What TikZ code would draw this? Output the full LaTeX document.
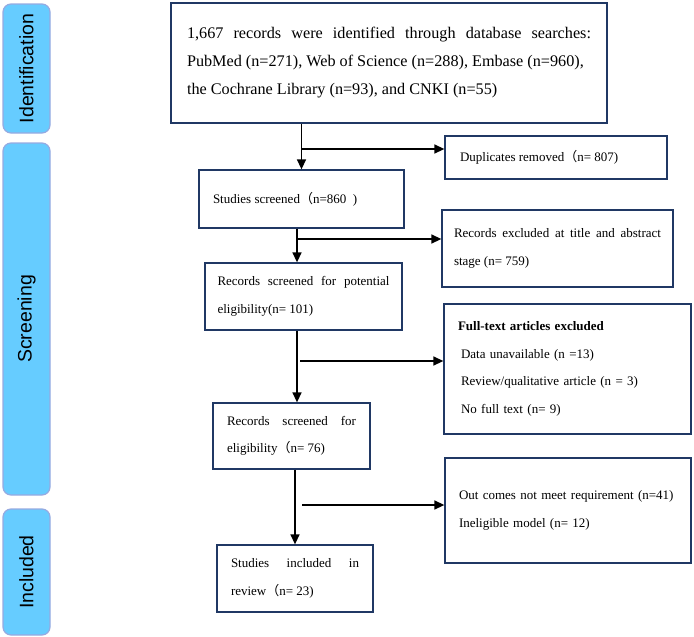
\documentclass[tikz,border=0pt]{standalone}
\usepackage{fontspec}
\setmainfont{Liberation Serif}
\setsansfont{Liberation Sans}
\newfontfamily\cjk{Noto Sans CJK SC}
\usetikzlibrary{arrows.meta, positioning, calc}
\definecolor{phasefill}{RGB}{102, 204, 255}
\definecolor{phaseborder}{RGB}{150, 170, 225}
\definecolor{boxnavy}{RGB}{32, 56, 100}
\newcommand{\fwp}{{\cjk （}}
\hyphenpenalty=10000
\tolerance=10000
\tikzset{
  phase/.style  = {rectangle, rounded corners=8pt, draw=phaseborder, fill=phasefill, line width=1.2pt, rotate=90, minimum height=47pt, font=\sffamily\fontsize{19.5}{19.5}\selectfont},
  stage/.style  = {rectangle, draw=boxnavy, line width=1.3pt, inner xsep=14pt, inner ysep=0pt, align=justify, font=\fontsize{13}{27.5}\selectfont},
  flow/.style   = {-{Triangle[length=10pt, width=9pt]}, line width=1.4pt, black},
}
\begin{document}
\begin{tikzpicture}[x=1pt, y=-1pt]
  \useasboundingbox (0,0) rectangle (694,637);

  % phases
  \node[phase, minimum width=129pt] (identification) at (26.5,68.5) {Identification};
  \node[phase, minimum width=352pt] (screening) at (26.5,319) {Screening};
  \node[phase, minimum width=126pt] (included) at (26.5,572) {Included};

  % main column
  \node[stage, text width=404pt, inner xsep=16pt, minimum height=120pt, font=\fontsize{16.2}{28}\selectfont] (records) at (389,63)
    {1,667 records were identified through database searches: PubMed (n=271), Web of Science (n=288), Embase (n=960),\newline the Cochrane Library (n=93), and CNKI (n=55)};
  \node[stage, text width=177pt, minimum height=58pt] (screened) at (301.5,199) {Studies screened\fwp n=860\ \ )};
  \node[stage, text width=172pt, minimum height=67pt, inner xsep=12.5pt] (potential) at (303.5,296.5) {Records screened for potential eligibility(n= 101)};
  \node[stage, text width=129pt, minimum height=66pt] (eligible) at (291.5,436) {Records screened for eligibility\fwp n= 76)};
  \node[stage, text width=128pt, minimum height=67pt] (review) at (295,578.5) {Studies included in review\fwp n= 23)};

  % exclusions
  \node[stage, text width=192pt, minimum height=43pt, inner xsep=15pt] (duplicates) at (556,157.5) {Duplicates removed\fwp n= 807)};
  \node[stage, text width=207pt, minimum height=77pt, inner xsep=12pt] (abstract) at (557.5,248.5) {Records excluded at title and abstract stage (n= 759)};
  \node[stage, text width=219pt, minimum height=130pt, align=left] (fulltext) at (567.5,369)
    {\textbf{Full-text articles excluded}\\ \hspace{3pt}Data unavailable (n =13)\\ \hspace{3pt}Review/qualitative article (n = 3)\\ \hspace{3pt}No full text (n= 9)};
  \node[stage, text width=218pt, minimum height=105pt, align=left] (outcomes) at (568,510.5)
    {Out comes not meet requirement (n=41)\\ Ineligible model (n= 12)};

  % connectors
  \coordinate (j1) at (301.5,149);
  \coordinate (j2) at (297,239);
  \coordinate (j3) at (300,361);
  \coordinate (j4) at (302,505);
  \draw[flow] (records.south -| j1) -- (screened.north -| j1);
  \draw[flow] (j1) -- (duplicates.west |- j1);
  \draw[flow] (screened.south -| j2) -- (potential.north -| j2);
  \draw[flow] (j2) -- (abstract.west |- j2);
  \draw[flow] (potential.south -| j2) -- (eligible.north -| j2);
  \draw[flow] (j3) -- (fulltext.west |- j3);
  \draw[flow] (eligible.south -| review.north) -- (review.north);
  \draw[flow] (j4) -- (outcomes.west |- j4);
\end{tikzpicture}
\end{document}
